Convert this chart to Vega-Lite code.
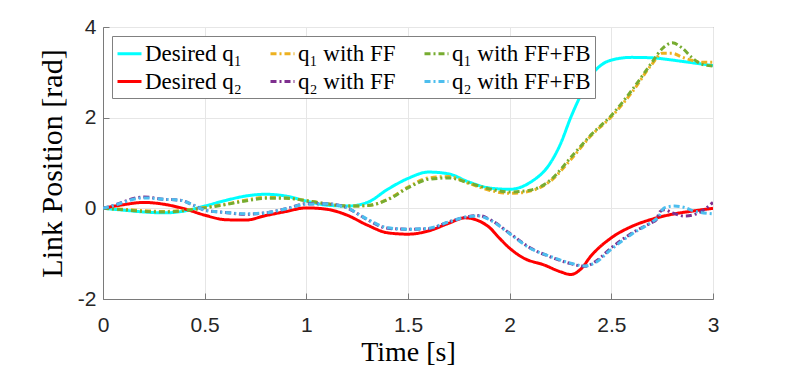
{
  "$schema": "https://vega.github.io/schema/vega-lite/v6.json",
  "width": 610,
  "height": 272,
  "autosize": {"type": "none"},
  "padding": {"left": 103, "top": 27, "right": 76, "bottom": 70},
  "background": "white",
  "config": {
    "view": {"stroke": "#7a7a7a", "strokeWidth": 1},
    "axis": {
      "labelFont": "Liberation Sans",
      "labelFontSize": 21,
      "labelColor": "#262626",
      "titleFont": "Liberation Serif",
      "titleFontSize": 28,
      "titleFontWeight": "normal",
      "titleColor": "#000000",
      "gridColor": "#e6e6e6",
      "gridWidth": 1,
      "domainColor": "#7a7a7a",
      "tickColor": "#7a7a7a"
    }
  },
  "data": {
    "values": [
      {"s":"Desired q₁","t":0,"v":0},{"s":"Desired q₁","t":0.1,"v":-0.04},{"s":"Desired q₁","t":0.2,"v":-0.08},{"s":"Desired q₁","t":0.3,"v":-0.1},{"s":"Desired q₁","t":0.4,"v":-0.06},{"s":"Desired q₁","t":0.5,"v":0.05},{"s":"Desired q₁","t":0.6,"v":0.17},{"s":"Desired q₁","t":0.7,"v":0.27},{"s":"Desired q₁","t":0.8,"v":0.31},{"s":"Desired q₁","t":0.9,"v":0.27},{"s":"Desired q₁","t":1.0,"v":0.16},{"s":"Desired q₁","t":1.1,"v":0.07},{"s":"Desired q₁","t":1.2,"v":0.05},{"s":"Desired q₁","t":1.3,"v":0.13},{"s":"Desired q₁","t":1.4,"v":0.42},{"s":"Desired q₁","t":1.5,"v":0.66},{"s":"Desired q₁","t":1.6,"v":0.8},{"s":"Desired q₁","t":1.7,"v":0.76},{"s":"Desired q₁","t":1.8,"v":0.58},{"s":"Desired q₁","t":1.9,"v":0.45},{"s":"Desired q₁","t":2.0,"v":0.42},{"s":"Desired q₁","t":2.1,"v":0.57},{"s":"Desired q₁","t":2.2,"v":1.0},{"s":"Desired q₁","t":2.25,"v":1.42},{"s":"Desired q₁","t":2.3,"v":2.0},{"s":"Desired q₁","t":2.35,"v":2.5},{"s":"Desired q₁","t":2.4,"v":2.92},{"s":"Desired q₁","t":2.45,"v":3.16},{"s":"Desired q₁","t":2.5,"v":3.27},{"s":"Desired q₁","t":2.6,"v":3.33},{"s":"Desired q₁","t":2.7,"v":3.32},{"s":"Desired q₁","t":2.8,"v":3.27},{"s":"Desired q₁","t":2.9,"v":3.21},{"s":"Desired q₁","t":3.0,"v":3.15},
      {"s":"Desired q₂","t":0,"v":0},{"s":"Desired q₂","t":0.1,"v":0.08},{"s":"Desired q₂","t":0.2,"v":0.13},{"s":"Desired q₂","t":0.3,"v":0.09},{"s":"Desired q₂","t":0.4,"v":-0.01},{"s":"Desired q₂","t":0.5,"v":-0.15},{"s":"Desired q₂","t":0.6,"v":-0.25},{"s":"Desired q₂","t":0.7,"v":-0.26},{"s":"Desired q₂","t":0.8,"v":-0.16},{"s":"Desired q₂","t":0.9,"v":-0.07},{"s":"Desired q₂","t":1.0,"v":0.01},{"s":"Desired q₂","t":1.1,"v":-0.02},{"s":"Desired q₂","t":1.2,"v":-0.15},{"s":"Desired q₂","t":1.3,"v":-0.37},{"s":"Desired q₂","t":1.4,"v":-0.54},{"s":"Desired q₂","t":1.5,"v":-0.57},{"s":"Desired q₂","t":1.6,"v":-0.5},{"s":"Desired q₂","t":1.7,"v":-0.33},{"s":"Desired q₂","t":1.78,"v":-0.21},{"s":"Desired q₂","t":1.85,"v":-0.28},{"s":"Desired q₂","t":1.9,"v":-0.42},{"s":"Desired q₂","t":1.95,"v":-0.66},{"s":"Desired q₂","t":2.0,"v":-0.88},{"s":"Desired q₂","t":2.07,"v":-1.1},{"s":"Desired q₂","t":2.17,"v":-1.25},{"s":"Desired q₂","t":2.25,"v":-1.4},{"s":"Desired q₂","t":2.3,"v":-1.46},{"s":"Desired q₂","t":2.35,"v":-1.34},{"s":"Desired q₂","t":2.4,"v":-1.05},{"s":"Desired q₂","t":2.5,"v":-0.65},{"s":"Desired q₂","t":2.6,"v":-0.4},{"s":"Desired q₂","t":2.7,"v":-0.24},{"s":"Desired q₂","t":2.8,"v":-0.13},{"s":"Desired q₂","t":2.9,"v":-0.06},{"s":"Desired q₂","t":3.0,"v":0.0},
      {"s":"q₁ with FF","t":0,"v":0},{"s":"q₁ with FF","t":0.1,"v":-0.02},{"s":"q₁ with FF","t":0.2,"v":-0.05},{"s":"q₁ with FF","t":0.3,"v":-0.07},{"s":"q₁ with FF","t":0.4,"v":-0.04},{"s":"q₁ with FF","t":0.5,"v":0.02},{"s":"q₁ with FF","t":0.6,"v":0.09},{"s":"q₁ with FF","t":0.7,"v":0.18},{"s":"q₁ with FF","t":0.8,"v":0.24},{"s":"q₁ with FF","t":0.9,"v":0.23},{"s":"q₁ with FF","t":1.0,"v":0.17},{"s":"q₁ with FF","t":1.1,"v":0.1},{"s":"q₁ with FF","t":1.2,"v":0.05},{"s":"q₁ with FF","t":1.3,"v":0.06},{"s":"q₁ with FF","t":1.4,"v":0.2},{"s":"q₁ with FF","t":1.5,"v":0.47},{"s":"q₁ with FF","t":1.6,"v":0.67},{"s":"q₁ with FF","t":1.7,"v":0.7},{"s":"q₁ with FF","t":1.8,"v":0.55},{"s":"q₁ with FF","t":1.9,"v":0.4},{"s":"q₁ with FF","t":2.0,"v":0.33},{"s":"q₁ with FF","t":2.1,"v":0.38},{"s":"q₁ with FF","t":2.2,"v":0.6},{"s":"q₁ with FF","t":2.3,"v":1.07},{"s":"q₁ with FF","t":2.4,"v":1.6},{"s":"q₁ with FF","t":2.5,"v":2.02},{"s":"q₁ with FF","t":2.6,"v":2.55},{"s":"q₁ with FF","t":2.7,"v":3.18},{"s":"q₁ with FF","t":2.75,"v":3.42},{"s":"q₁ with FF","t":2.8,"v":3.42},{"s":"q₁ with FF","t":2.85,"v":3.33},{"s":"q₁ with FF","t":2.9,"v":3.26},{"s":"q₁ with FF","t":2.95,"v":3.22},{"s":"q₁ with FF","t":3.0,"v":3.22},
      {"s":"q₁ with FF+FB","t":0,"v":0},{"s":"q₁ with FF+FB","t":0.1,"v":-0.03},{"s":"q₁ with FF+FB","t":0.2,"v":-0.07},{"s":"q₁ with FF+FB","t":0.3,"v":-0.08},{"s":"q₁ with FF+FB","t":0.4,"v":-0.05},{"s":"q₁ with FF+FB","t":0.5,"v":0.01},{"s":"q₁ with FF+FB","t":0.6,"v":0.08},{"s":"q₁ with FF+FB","t":0.7,"v":0.16},{"s":"q₁ with FF+FB","t":0.8,"v":0.22},{"s":"q₁ with FF+FB","t":0.9,"v":0.22},{"s":"q₁ with FF+FB","t":1.0,"v":0.17},{"s":"q₁ with FF+FB","t":1.1,"v":0.1},{"s":"q₁ with FF+FB","t":1.2,"v":0.05},{"s":"q₁ with FF+FB","t":1.3,"v":0.06},{"s":"q₁ with FF+FB","t":1.4,"v":0.19},{"s":"q₁ with FF+FB","t":1.5,"v":0.45},{"s":"q₁ with FF+FB","t":1.6,"v":0.64},{"s":"q₁ with FF+FB","t":1.7,"v":0.67},{"s":"q₁ with FF+FB","t":1.8,"v":0.56},{"s":"q₁ with FF+FB","t":1.9,"v":0.43},{"s":"q₁ with FF+FB","t":2.0,"v":0.36},{"s":"q₁ with FF+FB","t":2.1,"v":0.4},{"s":"q₁ with FF+FB","t":2.2,"v":0.62},{"s":"q₁ with FF+FB","t":2.3,"v":1.12},{"s":"q₁ with FF+FB","t":2.4,"v":1.62},{"s":"q₁ with FF+FB","t":2.5,"v":2.05},{"s":"q₁ with FF+FB","t":2.6,"v":2.6},{"s":"q₁ with FF+FB","t":2.7,"v":3.22},{"s":"q₁ with FF+FB","t":2.75,"v":3.52},{"s":"q₁ with FF+FB","t":2.8,"v":3.65},{"s":"q₁ with FF+FB","t":2.85,"v":3.53},{"s":"q₁ with FF+FB","t":2.9,"v":3.31},{"s":"q₁ with FF+FB","t":2.95,"v":3.17},{"s":"q₁ with FF+FB","t":3.0,"v":3.14},
      {"s":"q₂ with FF","t":0,"v":0},{"s":"q₂ with FF","t":0.05,"v":0.06},{"s":"q₂ with FF","t":0.1,"v":0.14},{"s":"q₂ with FF","t":0.15,"v":0.22},{"s":"q₂ with FF","t":0.2,"v":0.25},{"s":"q₂ with FF","t":0.3,"v":0.2},{"s":"q₂ with FF","t":0.38,"v":0.18},{"s":"q₂ with FF","t":0.45,"v":0.06},{"s":"q₂ with FF","t":0.5,"v":-0.04},{"s":"q₂ with FF","t":0.6,"v":-0.09},{"s":"q₂ with FF","t":0.7,"v":-0.13},{"s":"q₂ with FF","t":0.8,"v":-0.1},{"s":"q₂ with FF","t":0.9,"v":-0.01},{"s":"q₂ with FF","t":1.0,"v":0.1},{"s":"q₂ with FF","t":1.1,"v":0.1},{"s":"q₂ with FF","t":1.2,"v":0.01},{"s":"q₂ with FF","t":1.3,"v":-0.25},{"s":"q₂ with FF","t":1.4,"v":-0.44},{"s":"q₂ with FF","t":1.5,"v":-0.46},{"s":"q₂ with FF","t":1.6,"v":-0.45},{"s":"q₂ with FF","t":1.7,"v":-0.3},{"s":"q₂ with FF","t":1.8,"v":-0.18},{"s":"q₂ with FF","t":1.85,"v":-0.16},{"s":"q₂ with FF","t":1.9,"v":-0.24},{"s":"q₂ with FF","t":2.0,"v":-0.55},{"s":"q₂ with FF","t":2.1,"v":-0.87},{"s":"q₂ with FF","t":2.2,"v":-1.07},{"s":"q₂ with FF","t":2.3,"v":-1.22},{"s":"q₂ with FF","t":2.37,"v":-1.28},{"s":"q₂ with FF","t":2.42,"v":-1.18},{"s":"q₂ with FF","t":2.5,"v":-0.87},{"s":"q₂ with FF","t":2.6,"v":-0.55},{"s":"q₂ with FF","t":2.7,"v":-0.31},{"s":"q₂ with FF","t":2.72,"v":-0.26},{"s":"q₂ with FF","t":2.74,"v":-0.07},{"s":"q₂ with FF","t":2.76,"v":-0.03},{"s":"q₂ with FF","t":2.8,"v":-0.1},{"s":"q₂ with FF","t":2.86,"v":-0.17},{"s":"q₂ with FF","t":2.93,"v":-0.1},{"s":"q₂ with FF","t":3.0,"v":0.13},
      {"s":"q₂ with FF+FB","t":0,"v":0},{"s":"q₂ with FF+FB","t":0.05,"v":0.06},{"s":"q₂ with FF+FB","t":0.1,"v":0.13},{"s":"q₂ with FF+FB","t":0.15,"v":0.2},{"s":"q₂ with FF+FB","t":0.2,"v":0.23},{"s":"q₂ with FF+FB","t":0.3,"v":0.2},{"s":"q₂ with FF+FB","t":0.38,"v":0.18},{"s":"q₂ with FF+FB","t":0.45,"v":0.06},{"s":"q₂ with FF+FB","t":0.5,"v":-0.04},{"s":"q₂ with FF+FB","t":0.6,"v":-0.09},{"s":"q₂ with FF+FB","t":0.7,"v":-0.12},{"s":"q₂ with FF+FB","t":0.8,"v":-0.1},{"s":"q₂ with FF+FB","t":0.9,"v":-0.01},{"s":"q₂ with FF+FB","t":1.0,"v":0.09},{"s":"q₂ with FF+FB","t":1.1,"v":0.1},{"s":"q₂ with FF+FB","t":1.2,"v":0.01},{"s":"q₂ with FF+FB","t":1.3,"v":-0.24},{"s":"q₂ with FF+FB","t":1.4,"v":-0.43},{"s":"q₂ with FF+FB","t":1.5,"v":-0.46},{"s":"q₂ with FF+FB","t":1.6,"v":-0.44},{"s":"q₂ with FF+FB","t":1.7,"v":-0.3},{"s":"q₂ with FF+FB","t":1.8,"v":-0.18},{"s":"q₂ with FF+FB","t":1.85,"v":-0.17},{"s":"q₂ with FF+FB","t":1.9,"v":-0.25},{"s":"q₂ with FF+FB","t":2.0,"v":-0.56},{"s":"q₂ with FF+FB","t":2.1,"v":-0.88},{"s":"q₂ with FF+FB","t":2.2,"v":-1.06},{"s":"q₂ with FF+FB","t":2.3,"v":-1.21},{"s":"q₂ with FF+FB","t":2.37,"v":-1.27},{"s":"q₂ with FF+FB","t":2.42,"v":-1.2},{"s":"q₂ with FF+FB","t":2.5,"v":-0.9},{"s":"q₂ with FF+FB","t":2.6,"v":-0.57},{"s":"q₂ with FF+FB","t":2.7,"v":-0.3},{"s":"q₂ with FF+FB","t":2.73,"v":-0.2},{"s":"q₂ with FF+FB","t":2.76,"v":0.01},{"s":"q₂ with FF+FB","t":2.81,"v":0.05},{"s":"q₂ with FF+FB","t":2.86,"v":0.02},{"s":"q₂ with FF+FB","t":2.9,"v":-0.05},{"s":"q₂ with FF+FB","t":3.0,"v":-0.12}
    ]
  },
  "mark": {"type": "line", "interpolate": "monotone", "strokeWidth": 3, "clip": true},
  "encoding": {
    "x": {
      "field": "t", "type": "quantitative",
      "scale": {"domain": [0, 3], "nice": false, "zero": false},
      "axis": {
        "values": [0, 0.5, 1, 1.5, 2, 2.5, 3],
        "labelExpr": "'' + datum.value",
        "title": "Time [s]",
        "tickSize": -6,
        "labelPadding": 21,
        "labelFlush": false,
        "titleBaseline": "middle",
        "titleX": 305,
        "titleY": 53
      }
    },
    "y": {
      "field": "v", "type": "quantitative",
      "scale": {"domain": [-2, 4], "nice": false, "zero": false},
      "axis": {
        "values": [-2, 0, 2, 4],
        "labelExpr": "'' + datum.value",
        "title": "Link Position [rad]",
        "titleFontSize": 30,
        "tickSize": -6,
        "labelPadding": 13,
        "labelFlush": false,
        "titleAngle": -90,
        "titleBaseline": "middle",
        "titleX": -51,
        "titleY": 136
      }
    },
    "color": {
      "field": "s", "type": "nominal",
      "scale": {
        "domain": ["Desired q₁", "q₁ with FF", "q₁ with FF+FB", "Desired q₂", "q₂ with FF", "q₂ with FF+FB"],
        "range": ["#00FFFF", "#EDB120", "#77AC30", "#FF0000", "#7E2F8E", "#4DBEEE"]
      },
      "legend": {
        "title": null,
        "orient": "none",
        "legendX": 9,
        "legendY": 9,
        "columns": 3,
        "direction": "horizontal",
        "symbolType": "stroke",
        "symbolSize": 576,
        "symbolStrokeWidth": 3,
        "labelFont": "Liberation Serif",
        "labelFontSize": 23,
        "labelColor": "#000000",
        "labelOffset": 2,
        "labelLimit": 300,
        "strokeColor": "#808080",
        "fillColor": "#ffffff",
        "padding": 4,
        "rowPadding": 2,
        "columnPadding": 22
      }
    },
    "strokeDash": {
      "field": "s", "type": "nominal",
      "scale": {
        "domain": ["Desired q₁", "q₁ with FF", "q₁ with FF+FB", "Desired q₂", "q₂ with FF", "q₂ with FF+FB"],
        "range": [[1, 0], [6, 3, 2, 3], [6, 3, 2, 3], [1, 0], [6, 3, 2, 3], [6, 3, 2, 3]]
      }
    }
  }
}
